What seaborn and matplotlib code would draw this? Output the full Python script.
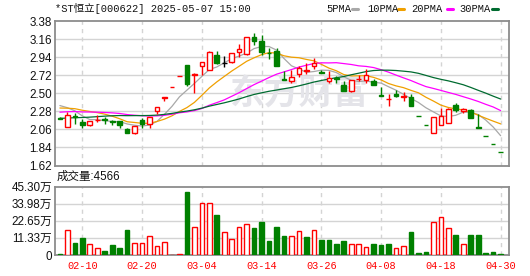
import numpy as np
import pandas as pd
import matplotlib
matplotlib.use("Agg")
import matplotlib.pyplot as plt
import seaborn as sns
from matplotlib.lines import Line2D

# ---------------- data ----------------
dates = ["02-05","02-06","02-07","02-10","02-11","02-12","02-13","02-14","02-17","02-18",
         "02-19","02-20","02-21","02-24","02-25","02-26","02-27","02-28","03-03","03-04",
         "03-05","03-06","03-07","03-10","03-11","03-12","03-13","03-14","03-17","03-18",
         "03-19","03-20","03-21","03-24","03-25","03-26","03-27","03-28","03-31","04-01",
         "04-02","04-03","04-07","04-08","04-09","04-10","04-11","04-14","04-15","04-16",
         "04-17","04-18","04-21","04-22","04-23","04-24","04-25","04-28","04-29","04-30"]
tick_labels = ["02-10", "02-20", "03-04", "03-14", "03-26", "04-08", "04-18", "04-30"]

opens  = [2.20,2.09,2.22,2.15,2.11,2.17,2.19,2.16,2.16,2.06,
          2.015,2.17,2.13,2.28,2.445,2.58,2.71,2.85,2.725,2.826,
          2.786,2.967,2.874,2.878,3.007,2.979,3.188,3.136,2.99,3.02,
          2.67,2.645,2.737,2.77,2.826,2.755,2.653,2.68,2.605,2.524,
          2.67,2.657,2.653,2.475,2.43,2.496,2.45,2.456,2.226,2.115,
          2.01,2.118,2.142,2.351,2.279,2.295,2.084,1.976,1.876,1.78]
highs  = [2.21,2.27,2.26,2.19,2.16,2.23,2.21,2.175,2.16,2.08,
          2.10,2.20,2.21,2.33,2.45,2.58,2.71,2.85,2.745,2.88,
          3.02,3.02,2.955,2.99,3.10,3.18,3.23,3.208,3.047,3.047,
          2.766,2.778,2.826,2.866,2.927,2.786,2.766,2.713,2.653,2.66,
          2.725,2.794,2.673,2.572,2.496,2.536,2.52,2.492,2.226,2.115,
          2.214,2.323,2.323,2.383,2.32,2.303,2.25,1.976,1.876,1.78]
lows   = [2.185,2.09,2.13,2.08,2.10,2.15,2.13,2.11,2.08,2.01,
          2.00,2.08,2.08,2.25,2.41,2.58,2.71,2.585,2.50,2.725,
          2.78,2.858,2.818,2.874,2.94,2.97,3.087,2.967,2.915,2.826,
          2.665,2.625,2.697,2.737,2.794,2.75,2.625,2.625,2.524,2.52,
          2.645,2.625,2.597,2.47,2.343,2.46,2.40,2.343,2.226,2.115,
          2.01,2.118,2.142,2.27,2.263,2.202,2.08,1.976,1.876,1.78]
closes = [2.19,2.23,2.21,2.11,2.16,2.18,2.175,2.15,2.11,2.015,
          2.10,2.13,2.21,2.33,2.45,2.58,2.71,2.617,2.74,2.878,
          2.999,2.866,2.874,2.987,3.04,3.18,3.14,2.999,2.985,2.826,
          2.665,2.697,2.806,2.78,2.874,2.75,2.685,2.672,2.524,2.657,
          2.675,2.717,2.597,2.472,2.435,2.464,2.468,2.343,2.226,2.115,
          2.214,2.22,2.31,2.30,2.31,2.202,2.082,1.976,1.876,1.78]
# closes of the 29 sessions before the window (needed for the moving averages)
prior_closes = [2.10,2.08,2.05,2.02,2.00,1.99,2.01,2.03,2.06,2.08,
                2.12,2.17,2.20,2.18,2.22,2.25,2.24,2.26,2.28,2.27,
                2.25,2.27,2.30,2.31,2.32,2.36,2.40,2.42,2.38]
volumes = [0.9,16.7,8.1,11.4,7.3,4.6,2.9,6.8,4.8,16.7,
           8.1,8.1,12.5,5.9,8.8,0.3,0.7,41.8,18.5,34.3,
           34.3,26.6,15.2,10.6,18.5,20.4,18.0,22.0,9.5,18.7,
           12.8,12.5,16.1,12.1,16.5,10.1,10.1,7.5,9.5,7.3,
           7.3,5.3,7.3,6.8,7.3,4.6,5.9,15.4,1.3,2.2,
           21.8,25.1,17.8,13.4,7.3,13.4,13.4,1.3,2.2,0.4566]  # 万
ma_windows = [5, 10, 20, 30]
ma_names = ["5PMA", "10PMA", "20PMA", "30PMA"]
price_ticks = [1.62, 1.84, 2.06, 2.28, 2.50, 2.72, 2.94, 3.16, 3.38]
vol_ticks = [0, 11.33, 22.65, 33.98, 45.30]
title = "*ST恒立[000622] 2025-05-07 15:00"

# ---------------- styles ----------------
RED = "#FF0000"
GREEN = "#008000"
MA_COLORS = ["#A8A8A8", "#F0A000", "#FF00FF", "#006B30"]
GRID = "#D4D4D4"
FRAME = "#8C8C8C"

sns.set_theme(style="white")
plt.rcParams["font.family"] = ["Liberation Sans", "Noto Sans CJK SC", "DejaVu Sans"]
MONO = ["Liberation Mono", "Noto Sans CJK SC", "DejaVu Sans"]

W, H = 530, 276
fig = plt.figure(figsize=(W / 100, H / 100), dpi=100)
fig.patch.set_facecolor("white")

def fx(px):
    return px / W

def fy(py):
    return 1 - py / H

ax = fig.add_axes([fx(55), fy(165.5), fx(509) - fx(55), fy(21) - fy(165.5)])
axv = fig.add_axes([fx(55), fy(255), fx(509) - fx(55), fy(186.5) - fy(255)])

df = pd.DataFrame({"date": dates, "open": opens, "high": highs, "low": lows,
                   "close": closes, "vol": volumes})
df["i"] = np.arange(len(df))
all_close = pd.Series(prior_closes + closes)
prev_close = all_close.shift(1).iloc[len(prior_closes):].to_numpy()
df["up"] = df["close"] >= prev_close

xlim = (-0.656, 60.12)
tick_pos = [dates.index(t) for t in tick_labels]
bw = 0.62

# ---------------- price panel ----------------
ax.set_xlim(*xlim)
ax.set_ylim(1.62, 3.38)
for p in price_ticks[1:-1]:
    ax.axhline(p, color=GRID, lw=1, zorder=0.2)
for t in tick_pos:
    ax.axvline(t, color=GRID, lw=1, ls=(0, (3, 3)), zorder=0.2)

ax.text(32.1, 2.50, "东方财富", fontsize=25, fontweight="bold", color="#E4E4E9",
        ha="center", va="center", zorder=0.3, family=["Noto Sans CJK SC"])

for k, (w, name, c) in enumerate(zip(ma_windows, ma_names, MA_COLORS)):
    ma = all_close.rolling(w).mean().iloc[len(prior_closes):].to_numpy()
    sns.lineplot(x=df["i"], y=ma, color=c, lw=0.9, ax=ax, zorder=2 + k * 0.01)

for _, r in df.iterrows():
    i, o, h, l, c = r["i"], r["open"], r["high"], r["low"], r["close"]
    if h == l:
        col = RED if r["up"] else GREEN
        ax.hlines(c, i - bw / 2, i + bw / 2, color=col, lw=1, zorder=3)
        continue
    if c > o:
        col, fc = RED, "white"
    elif c < o:
        col, fc = GREEN, GREEN
    else:
        col, fc = "black", "black"
    ax.vlines(i, l, h, color=col, lw=1, zorder=3)
    if c == o:
        ax.hlines(c, i - bw / 2, i + bw / 2, color=col, lw=1, zorder=3)
    else:
        ax.bar(i, abs(c - o), bottom=min(o, c), width=bw, facecolor=fc,
               edgecolor=col, lw=1, zorder=3.5)

ax.set_yticks(price_ticks)
ax.set_yticklabels([f"{p:.2f}" for p in price_ticks], fontsize=8.4, color="#111111")
ax.set_xticks(tick_pos)
ax.set_xticklabels([])
ax.tick_params(length=0, pad=2)
ax.set_xlabel("")
ax.set_ylabel("")
for s in ax.spines.values():
    s.set_color(FRAME)
    s.set_linewidth(1.3)

# ---------------- volume panel ----------------
axv.set_xlim(*xlim)
axv.set_ylim(0, 45.30)
for v in vol_ticks[1:-1]:
    axv.axhline(v, color=GRID, lw=1, zorder=0.2)
for t in tick_pos:
    axv.axvline(t, color=GRID, lw=1, ls=(0, (3, 3)), zorder=0.2)
for _, r in df.iterrows():
    if r["up"]:
        axv.bar(r["i"], r["vol"], width=bw, facecolor="white", edgecolor=RED, lw=1, zorder=3)
    else:
        axv.bar(r["i"], r["vol"], width=bw, facecolor=GREEN, edgecolor=GREEN, lw=1, zorder=3)
axv.set_yticks(vol_ticks)
axv.set_yticklabels(["0"] + [f"{v:.2f}万" for v in vol_ticks[1:]], fontsize=8.4, color="#111111")
axv.set_xticks(tick_pos)
axv.set_xticklabels(tick_labels, fontsize=7.4, color=RED, family=MONO)
axv.tick_params(axis="y", length=0, pad=2)
axv.tick_params(axis="x", length=0, pad=4)
for s in axv.spines.values():
    s.set_color(FRAME)
    s.set_linewidth(1.3)

# ---------------- header texts ----------------
fig.text(fx(55), fy(8.5), title, fontsize=7.5, family=MONO, ha="left", va="center", color="#111111")
legend_x = [326, 367.5, 411.5, 459]
mark_x = [351.5, 398, 446.5, 491.5]
for name, c, tx, mx in zip(ma_names, MA_COLORS, legend_x, mark_x):
    fig.text(fx(tx), fy(8.5), name, fontsize=7.5, family=MONO, ha="left", va="center", color="#111111")
    fig.add_artist(Line2D([fx(mx), fx(mx + 6)], [fy(9.3), fy(9.3)], color=c, lw=2.2,
                          transform=fig.transFigure))
fig.text(fx(57), fy(177), f"成交量:{int(round(volumes[-1] * 10000))}", fontsize=8.3,
         ha="left", va="center", color="#111111")

fig.savefig("out.png", dpi=100, facecolor="white")
